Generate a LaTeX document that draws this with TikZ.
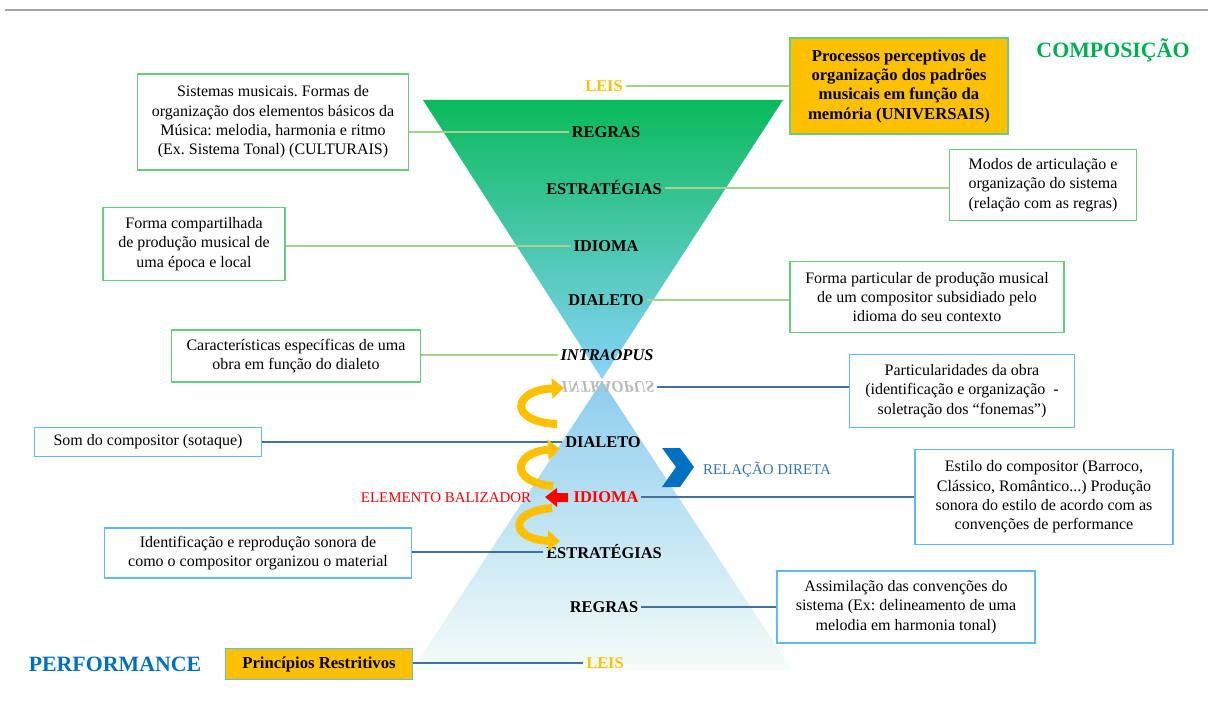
\documentclass[tikz,border=0pt]{standalone}
\usepackage{fontspec}
\setmainfont{Liberation Serif}
\usetikzlibrary{arrows.meta}
\frenchspacing

\definecolor{leisorange}{RGB}{255,192,0}
\definecolor{compgreen}{RGB}{0,176,80}
\definecolor{perfblue}{RGB}{0,112,192}
\definecolor{reldblue}{RGB}{46,117,182}
\definecolor{lightgline}{RGB}{169,209,142}
\definecolor{boxgreen}{RGB}{102,204,128}
\definecolor{boxblue}{RGB}{91,190,235}
\definecolor{steelline}{RGB}{65,113,156}
\definecolor{topgreen}{RGB}{10,186,92}
\definecolor{topmid}{RGB}{72,196,178}
\definecolor{topblue}{RGB}{135,212,250}
\definecolor{botblue}{RGB}{140,205,238}
\definecolor{botmid}{RGB}{178,226,216}
\definecolor{botwhite}{RGB}{246,252,249}

\begin{document}
\begin{tikzpicture}[x=0.75pt, y=-0.75pt,
        txt/.style={font=\fontsize{12}{14.5}\selectfont, align=center},
        greenbox/.style={txt, draw=boxgreen, line width=0.9pt, fill=white, inner sep=2pt},
        bluebox/.style={txt, draw=boxblue, line width=0.9pt, fill=white, inner sep=2pt},
        stage/.style={font=\fontsize{12.3}{14}\selectfont\bfseries, inner sep=2pt},
        gline/.style={draw=lightgline, line width=1.1pt},
        sline/.style={draw=steelline, line width=1.1pt},
        turnarrow/.style={draw=leisorange, line width=6pt, -{Triangle[length=9pt, width=15pt]}}]
        \useasboundingbox (0,0) rectangle (1208,717);
        \draw[gray!70, line width=1.5pt] (5,10) -- (1208,10);
        % the two cones
        \shade[top color=topgreen, middle color=topmid, bottom color=topblue] (423,100) -- (783,100) -- (602,379) -- cycle;
        \shade[top color=botblue, middle color=botmid, bottom color=botwhite] (602,381) -- (792,670) -- (412,670) -- cycle;
        % composition side
        \node[font=\fontsize{16.4}{18}\selectfont\bfseries, text=compgreen] (comp) at (1113,50) {COMPOSIÇÃO};
        \node[stage, text=leisorange] (leisC) at (604,86) {LEIS};
        \node[stage] (regrasC) at (606,132) {REGRAS};
        \node[stage] (estratC) at (604,188) {ESTRATÉGIAS};
        \node[stage] (idiomaC) at (606,246) {IDIOMA};
        \node[stage] (dialetoC) at (606,300) {DIALETO};
        \node[stage, font=\fontsize{12.3}{14}\selectfont\bfseries\itshape] (intra) at (607,355) {INTRAOPUS};
        \node[stage, font=\fontsize{12.3}{14}\selectfont\bfseries\itshape, text=gray!55] (intraM) at (608,387) {\scalebox{1}[-1]{INTRAOPUS}};
        \node[txt, font=\fontsize{12.5}{14.5}\selectfont\bfseries, fill=leisorange, draw=boxgreen, line width=0.9pt, minimum width=163.5pt, minimum height=72pt] (processos) at (899,86) {Processos perceptivos de\\organização dos padrões\\musicais em função da\\memória (UNIVERSAIS)};
        \node[greenbox, minimum width=203pt, minimum height=72pt] (sistemas) at (273,122) {Sistemas musicais. Formas de\\organização dos elementos básicos da\\Música: melodia, harmonia e ritmo\\(Ex. Sistema Tonal) (CULTURAIS)};
        \node[greenbox, minimum width=140pt, minimum height=53pt] (modos) at (1043,185) {Modos de articulação e\\organização do sistema\\(relação com as regras)};
        \node[greenbox, minimum width=136.5pt, minimum height=55pt] (compart) at (194,244) {Forma compartilhada\\de produção musical de\\uma época e local};
        \node[greenbox, minimum width=205.5pt, minimum height=53pt] (particular) at (927,297) {Forma particular de produção musical\\de um compositor subsidiado pelo\\idioma do seu contexto};
        \node[greenbox, minimum width=187pt, minimum height=39pt] (caract) at (296,356) {Características específicas de uma\\obra em função do dialeto};
        \draw[gline] (leisC) -- (processos);
        \draw[gline] (regrasC.west) -- (regrasC.west -| sistemas.east);
        \draw[gline] (estratC.east) -- (estratC.east -| modos.west);
        \draw[gline] (idiomaC.west) -- (idiomaC.west -| compart.east);
        \draw[gline] (dialetoC.east) -- (dialetoC.east -| particular.west);
        \draw[gline] (intra.west) -- (intra.west -| caract.east);
        % performance side
        \node[stage] (dialetoP) at (603,442) {DIALETO};
        \node[stage, text=red] (idiomaP) at (606,497) {IDIOMA};
        \node[stage] (estratP) at (604,552) {ESTRATÉGIAS};
        \node[stage] (regrasP) at (604,607) {REGRAS};
        \node[stage, text=leisorange] (leisP) at (605,663) {LEIS};
        \node[font=\fontsize{16.4}{18}\selectfont\bfseries, text=perfblue] (perf) at (115,664) {PERFORMANCE};
        \node[bluebox, minimum width=169pt, minimum height=55pt] (obra) at (962,391) {Particularidades da obra\\(identificação e organização\ \ -\\soletração dos “fonemas”)};
        \node[bluebox, minimum width=170pt, minimum height=22pt] (sotaque) at (148,442) {Som do compositor (sotaque)};
        \node[bluebox, minimum width=193.5pt, minimum height=71pt] (estilo) at (1044,497) {Estilo do compositor (Barroco,\\Clássico, Romântico...) Produção\\sonora do estilo de acordo com as\\convenções de performance};
        \node[bluebox, minimum width=230pt, minimum height=37.5pt] (reprod) at (258,553) {Identificação e reprodução sonora de\\como o compositor organizou o material};
        \node[bluebox, minimum width=193.5pt, minimum height=54pt] (assim) at (906,607) {Assimilação das convenções do\\sistema (Ex: delineamento de uma\\melodia em harmonia tonal)};
        \node[txt, font=\fontsize{12.5}{14.5}\selectfont\bfseries, fill=leisorange, draw=boxblue, line width=0.9pt, minimum width=140pt, minimum height=23pt] (restrit) at (319,664) {Princípios Restritivos};
        \draw[sline] (intraM.east) -- (intraM.east -| obra.west);
        \draw[sline] (dialetoP.west) -- (dialetoP.west -| sotaque.east);
        \draw[sline] (idiomaP.east) -- (idiomaP.east -| estilo.west);
        \draw[sline] (estratP.west) -- (estratP.west -| reprod.east);
        \draw[sline] (regrasP.east) -- (regrasP.east -| assim.west);
        \draw[sline] (leisP.west) -- (leisP.west -| restrit.east);
        % balizador and direct relation
        \node[font=\fontsize{11.2}{12}\selectfont, text=red] (baliz) at (446,498) {ELEMENTO BALIZADOR};
        \fill[red] (545,497) -- (557,488) -- (557,493) -- (568,493) -- (568,502) -- (557,502) -- (557,507) -- cycle;
        \node[font=\fontsize{11.2}{12}\selectfont, text=reldblue] (relacao) at (767,470) {RELAÇÃO DIRETA};
        \fill[perfblue] (662,448) -- (680,448) -- (694,467) -- (680,487) -- (662,487) -- (676,467) -- cycle;
        \draw[turnarrow] (557,424) .. controls (508,422) and (512,390) .. (564,388);
        \draw[turnarrow] (553,486) .. controls (508,482) and (514,452) .. (560,449);
        \draw[turnarrow] (552,508) .. controls (506,512) and (512,540) .. (560,541);
\end{tikzpicture}
\end{document}
